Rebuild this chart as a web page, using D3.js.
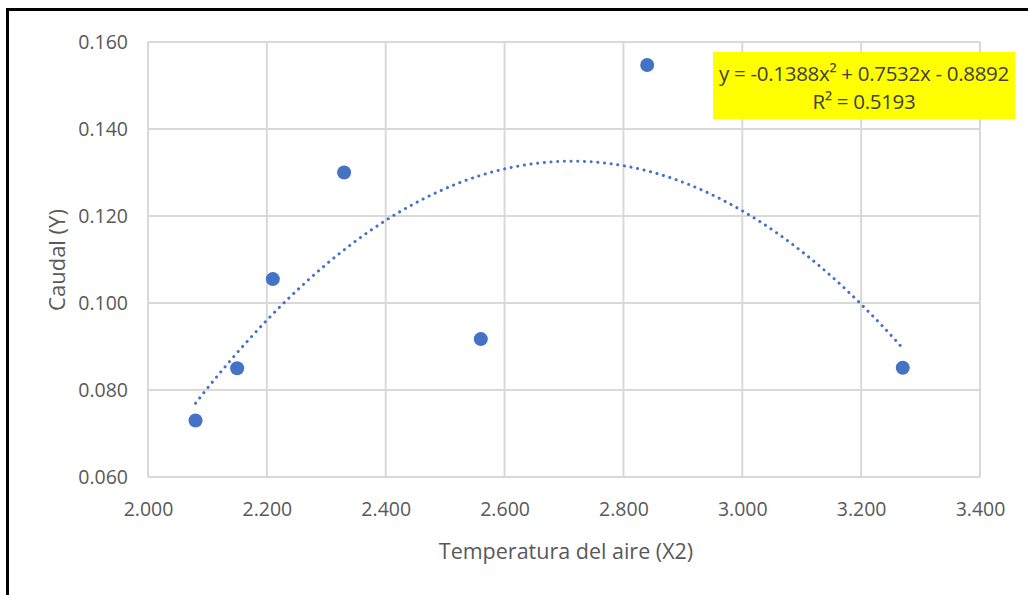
<!DOCTYPE html>
<html>
<head>
<meta charset="utf-8">
<script src="https://cdn.jsdelivr.net/npm/d3@7"></script>
<style>
  body { margin: 0; background: #fff; }
  svg { display: block; font-family: "Open Sans", sans-serif; }
</style>
</head>
<body>
<script>
// data
const xVals = [2.08, 2.15, 2.21, 2.33, 2.56, 2.84, 3.27];
const yVals = [0.073, 0.085, 0.1055, 0.130, 0.0917, 0.1547, 0.0851];
const xTicks = [2.0, 2.2, 2.4, 2.6, 2.8, 3.0, 3.2, 3.4];
const yTicks = [0.06, 0.08, 0.10, 0.12, 0.14, 0.16];
// polynomial trendline y = a x^2 + b x + c (as printed on chart)
const trendCoef = [-0.1388, 0.7532, -0.8892];
const eqLines = ["y = -0.1388x² + 0.7532x - 0.8892", "R² = 0.5193"];

const w = 1028, h = 595;
const m = {left: 148, top: 42, right: 980, bottom: 477};
const blue = "#4472C4";

const svg = d3.select("body").append("svg")
  .attr("width", w)
  .attr("height", h);

// outer frame (top + left visible)
svg.append("path")
  .attr("d", `M7.5,${h} V9.5 H${w}`)
  .attr("fill", "none")
  .attr("stroke", "#000")
  .attr("stroke-width", 3);

const x = d3.scaleLinear().domain([2.0, 3.4]).range([m.left, m.right]);
const y = d3.scaleLinear().domain([0.06, 0.16]).range([m.bottom, m.top]);

// gridlines
svg.append("g")
  .selectAll("line.v")
  .data(xTicks)
  .enter().append("line")
  .attr("x1", d => x(d)).attr("x2", d => x(d))
  .attr("y1", m.top).attr("y2", m.bottom)
  .attr("stroke", "#d9d9d9").attr("stroke-width", 2);

svg.append("g")
  .selectAll("line.h")
  .data(yTicks)
  .enter().append("line")
  .attr("x1", m.left).attr("x2", m.right)
  .attr("y1", d => y(d)).attr("y2", d => y(d))
  .attr("stroke", "#d9d9d9").attr("stroke-width", 2);

// axes (labels only)
const xAxis = svg.append("g")
  .attr("transform", `translate(0, ${m.bottom})`)
  .call(d3.axisBottom(x).tickValues(xTicks).tickFormat(d3.format(".3f")).tickSize(0).tickPadding(22));
const yAxis = svg.append("g")
  .attr("transform", `translate(${m.left}, 0)`)
  .call(d3.axisLeft(y).tickValues(yTicks).tickFormat(d3.format(".3f")).tickSize(0).tickPadding(20));

[xAxis, yAxis].forEach(a => {
  a.select(".domain").remove();
  a.selectAll("text")
    .attr("fill", "#595959")
    .style("font-size", "19.5px")
    .style("font-family", "'Open Sans', sans-serif");
});
xAxis.selectAll("text").attr("dy", "0.32em").attr("y", 33);

// trendline
const trendX = d3.range(0, 101).map(i => xVals[0] + (xVals[xVals.length - 1] - xVals[0]) * i / 100);
const poly = v => trendCoef[0] * v * v + trendCoef[1] * v + trendCoef[2];
svg.append("path")
  .datum(trendX)
  .attr("d", d3.line().x(d => x(d)).y(d => y(poly(d))))
  .attr("fill", "none")
  .attr("stroke", blue)
  .attr("stroke-width", 3)
  .attr("stroke-linecap", "round")
  .attr("stroke-dasharray", "0.1 6.6");

// points
svg.append("g")
  .selectAll("circle")
  .data(xVals.map((v, i) => [v, yVals[i]]))
  .enter().append("circle")
  .attr("cx", d => x(d[0]))
  .attr("cy", d => y(d[1]))
  .attr("r", 7)
  .attr("fill", blue);

// equation label
const eq = svg.append("g");
eq.append("rect")
  .attr("x", 713).attr("y", 52)
  .attr("width", 302).attr("height", 67)
  .attr("fill", "#ffff00");
eq.selectAll("text")
  .data(eqLines)
  .enter().append("text")
  .attr("x", 864)
  .attr("y", (d, i) => 74 + i * 28)
  .attr("dy", "0.35em")
  .attr("text-anchor", "middle")
  .attr("fill", "#404040")
  .style("font-size", "20.5px")
  .style("letter-spacing", "-0.3px")
  .text(d => d);

// axis titles
svg.append("text")
  .attr("x", 566).attr("y", 551)
  .attr("dy", "0.35em")
  .attr("text-anchor", "middle")
  .attr("fill", "#595959")
  .style("font-size", "21.5px")
  .text("Temperatura del aire (X2)");

svg.append("text")
  .attr("transform", "translate(57, 260) rotate(-90)")
  .attr("dy", "0.35em")
  .attr("text-anchor", "middle")
  .attr("fill", "#595959")
  .style("font-size", "22px")
  .text("Caudal (Y)");
</script>
</body>
</html>
